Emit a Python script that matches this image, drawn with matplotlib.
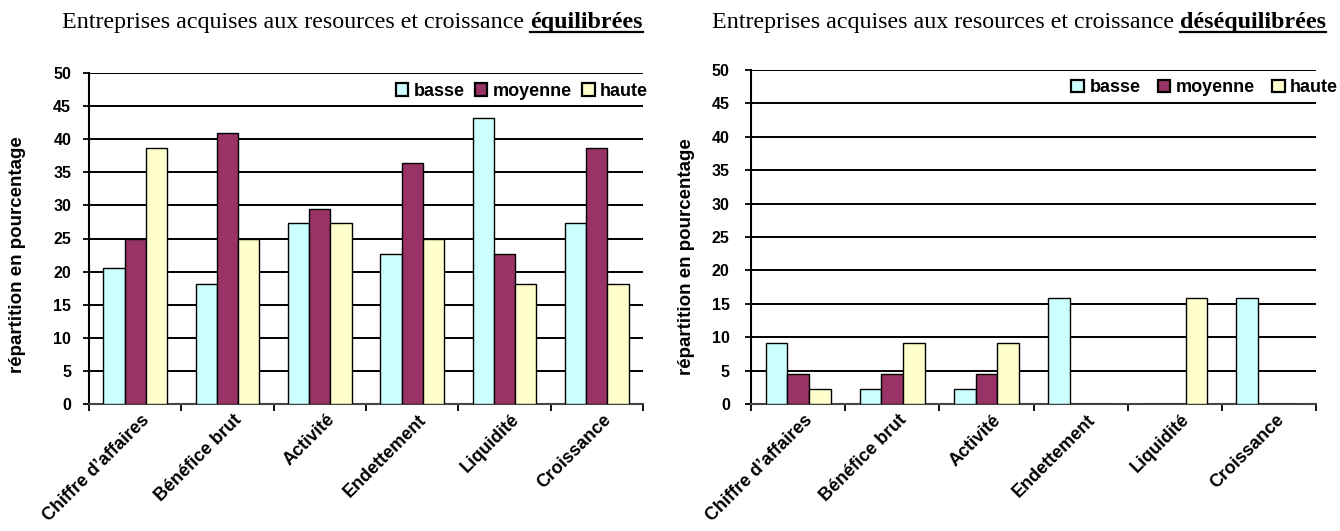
import matplotlib
matplotlib.use("Agg")
import matplotlib.pyplot as plt
import numpy as np

categories = ["Chiffre d\u2019affaires", "Bénéfice brut", "Activité", "Endettement", "Liquidité", "Croissance"]
series_names = ["basse", "moyenne", "haute"]

eq_basse = [20.5, 18.2, 27.3, 22.7, 43.2, 27.3]
eq_moyenne = [25.0, 40.9, 29.5, 36.4, 22.7, 38.6]
eq_haute = [38.6, 25.0, 27.3, 25.0, 18.2, 18.2]

deq_basse = [9.1, 2.3, 2.3, 15.9, 0.0, 15.9]
deq_moyenne = [4.5, 4.5, 4.5, 0.0, 0.0, 0.0]
deq_haute = [2.3, 9.1, 9.1, 0.0, 15.9, 0.0]

title_prefix = "Entreprises acquises aux resources et croissance "
title_eq = "équilibrées"
title_deq = "déséquilibrées"
ylabel = "répartition en pourcentage"
yticks = [0, 5, 10, 15, 20, 25, 30, 35, 40, 45, 50]

colors = ["#CCFFFF", "#993366", "#FFFFCC"]

fig = plt.figure(figsize=(13.4, 5.31), dpi=100)
ax1 = fig.add_axes([89/1340, 1-404/531, (643-89)/1340, (404-73)/531])
ax2 = fig.add_axes([751/1340, 1-404/531, (1316-751)/1340, (404-70)/531])

sans = "Liberation Sans"
serif = "Liberation Serif"


def draw(ax, data, ylab_xy, leg_xy, ypad, colsp):
    x = np.arange(len(categories))
    w = 0.23
    for i, (vals, c, name) in enumerate(zip(data, colors, series_names)):
        ax.bar(x + (i - 1) * w, vals, width=w, color=c, edgecolor="black",
               linewidth=1.0, label=name, zorder=3)
    ax.set_xlim(-0.5, len(categories) - 0.5)
    ax.set_ylim(0, 50)
    ax.set_yticks(yticks)
    ax.set_yticklabels([str(t) for t in yticks], fontfamily=sans,
                       fontweight="bold", fontsize=11.5)
    ax.yaxis.grid(True, color="black", linewidth=1.4, zorder=0)
    ax.set_axisbelow(True)
    ax.set_xticks(np.arange(len(categories) + 1) - 0.5)
    ax.set_xticklabels([])
    ax.tick_params(axis="x", direction="out", length=5, width=1.3, color="black")
    ax.tick_params(axis="y", direction="out", length=4.3, width=1.3, color="black", pad=ypad)
    for s in ["top", "right"]:
        ax.spines[s].set_visible(False)
    ax.spines["left"].set_linewidth(1.5)
    ax.spines["bottom"].set_linewidth(1.5)
    ax.spines["bottom"].set_color("#444444")
    for i, cat in enumerate(categories):
        ax.text(i + 0.13, -2.0, cat, rotation=45, rotation_mode="anchor",
                ha="right", va="center", fontfamily=sans, fontweight="bold",
                fontsize=13, transform=ax.transData, clip_on=False)
    ax.set_ylabel(ylabel, fontfamily=sans, fontweight="bold", fontsize=13.5)
    ax.yaxis.set_label_coords(*ylab_xy)
    leg = ax.legend(loc="center right", bbox_to_anchor=leg_xy, ncol=3,
                    frameon=False, handlelength=0.7, handleheight=0.7,
                    handletextpad=0.3, columnspacing=colsp, borderaxespad=0,
                    borderpad=0,
                    prop={"family": sans, "weight": "bold", "size": 13})
    for h in leg.legend_handles:
        h.set_linewidth(1.6)


draw(ax1, [eq_basse, eq_moyenne, eq_haute], (-0.114, 0.45), (1.009, 0.945), 8.5, 0.55)
draw(ax2, [deq_basse, deq_moyenne, deq_haute], (-0.099, 0.44), (1.039, 0.947), 11, 0.95)

fig.canvas.draw()
renderer = fig.canvas.get_renderer()


def title(x0, word, ypix):
    t1 = fig.text(0, 0, title_prefix, fontfamily=serif, fontsize=17.3,
                  transform=None)
    t2 = fig.text(0, 0, word, fontfamily=serif, fontsize=17.3,
                  fontweight="bold", transform=None)
    w1 = t1.get_window_extent(renderer).width
    w2 = t2.get_window_extent(renderer).width
    y = 531 - ypix
    t1.set_position((x0, y))
    t2.set_position((x0 + w1, y))
    fig.add_artist(matplotlib.lines.Line2D([x0 + w1, x0 + w1 + w2], [y - 3.5, y - 3.5],
                                           color="black", linewidth=1.6, transform=None))


title(62, title_eq, 28)
title(712, title_deq, 28)

fig.savefig("out.png", dpi=100)
